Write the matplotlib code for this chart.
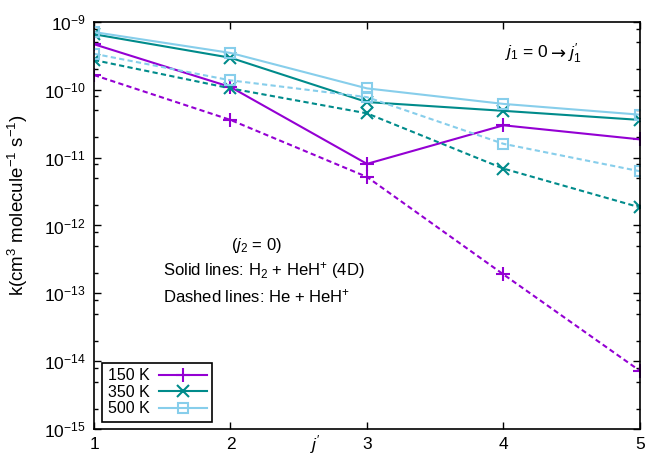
import math
import matplotlib
matplotlib.use("Agg")
import matplotlib.pyplot as plt
from matplotlib.ticker import FixedLocator, LogLocator, NullFormatter, FuncFormatter

plt.rcParams["font.family"] = ["Liberation Sans", "DejaVu Sans"]
plt.rcParams["mathtext.fontset"] = "custom"
plt.rcParams["mathtext.rm"] = "Liberation Sans"
plt.rcParams["mathtext.it"] = "Liberation Sans:italic"
plt.rcParams["mathtext.bf"] = "Liberation Sans:bold"

# Final rotational level j1'
j_final = [1, 2, 3, 4, 5]

# Rate coefficients, H2 + HeH+ (4D)
k_h2_150 = [4.7e-10, 1.1e-10, 8.1e-12, 3.0e-11, 1.86e-11]
k_h2_350 = [6.6e-10, 2.97e-10, 6.6e-11, 4.9e-11, 3.6e-11]
k_h2_500 = [7.1e-10, 3.5e-10, 1.05e-10, 6.2e-11, 4.3e-11]

# Rate coefficients, He + HeH+
k_he_150 = [1.65e-10, 3.6e-11, 5.2e-12, 1.9e-13, 7.2e-15]
k_he_350 = [2.75e-10, 1.05e-10, 4.5e-11, 6.9e-12, 1.85e-12]
k_he_500 = [3.4e-10, 1.38e-10, 7.8e-11, 1.6e-11, 6.3e-12]

temps = ["150 K", "350 K", "500 K"]
colors = ["#9400d3", "#008b8b", "#87ceeb"]
markers = ["+", "x", "s"]
marker_sizes = [10, 8, 7]

y_exponents = [-15, -14, -13, -12, -11, -10, -9]

fig = plt.figure(figsize=(6.51, 4.58), dpi=100)
ax = fig.add_axes([0.1444, 0.0633, 0.8386, 0.8887])

solid = [k_h2_150, k_h2_350, k_h2_500]
dashed = [k_he_150, k_he_350, k_he_500]

handles = []
for lab, col, mk, ms, ys, yd in zip(temps, colors, markers, marker_sizes, solid, dashed):
    mkw = dict(marker=mk, markersize=ms, markerfacecolor="none",
               markeredgecolor=col, markeredgewidth=1.5)
    h, = ax.plot(j_final, ys, color=col, lw=1.5, label=lab, **mkw)
    ax.plot(j_final, yd, color=col, lw=1.5, linestyle=(0, (2.5, 1.6)), **mkw)
    handles.append(h)

ax.set_yscale("log")
ax.set_xlim(1, 5)
ax.set_ylim(1e-15, 1e-9)
ax.xaxis.set_major_locator(FixedLocator(j_final))
ax.yaxis.set_major_locator(FixedLocator([10.0 ** e for e in y_exponents]))
ax.yaxis.set_minor_locator(LogLocator(base=10, subs=[2, 5, 8], numticks=20))
ax.yaxis.set_minor_formatter(NullFormatter())
ax.yaxis.set_major_formatter(FuncFormatter(
    lambda v, p: r"$10^{%d}$" % round(math.log10(v))))

ax.tick_params(which="both", direction="in", top=True, right=True,
               labelsize=12.5, width=1)
ax.tick_params(which="major", length=5, pad=6)
ax.tick_params(which="minor", length=3)
for s in ax.spines.values():
    s.set_linewidth(1.2)

ax.text(0.405, -0.039, r"$j'$", transform=ax.transAxes, fontsize=12.5,
        ha="center", va="center")
ax.set_ylabel(r"k(cm$^{3}$ molecule$^{-1}$ s$^{-1}$)", fontsize=13.5)
ax.yaxis.set_label_coords(-0.117, 0.55)

# transition label: j1 = 0 -> j1'
t1 = ax.text(0.752, 0.926, r"$j_1$ = 0", transform=ax.transAxes,
             fontsize=12.5, ha="left", va="center")
t2 = ax.annotate("→", xy=(1, 0.42), xycoords=t1, xytext=(2, 0),
                 textcoords="offset points", fontsize=13,
                 family="DejaVu Sans", ha="left", va="center")
ax.annotate(r"$j_1^{\prime}$", xy=(1, 0.5), xycoords=t2, xytext=(1, 0),
            textcoords="offset points", fontsize=12.5, ha="left", va="center")

ax.text(0.298, 0.45, r"($j_2$ = 0)", transform=ax.transAxes,
        fontsize=12, ha="center", va="center")
ax.text(0.127, 0.39, r"Solid lines: H$_2$ + HeH$^{+}$ (4D)", transform=ax.transAxes,
        fontsize=12, ha="left", va="center")
ax.text(0.127, 0.325, r"Dashed lines: He + HeH$^{+}$", transform=ax.transAxes,
        fontsize=12, ha="left", va="center")

leg = ax.legend(handles=handles, loc="lower left", bbox_to_anchor=(0.0147, 0.017),
                borderaxespad=0, markerfirst=False, fancybox=False,
                edgecolor="black", fontsize=11.5, handlelength=3.0,
                handletextpad=0.6, labelspacing=0.1, borderpad=0.35,
                framealpha=1)
leg.get_frame().set_linewidth(1.2)

fig.savefig("out.png", dpi=100)
